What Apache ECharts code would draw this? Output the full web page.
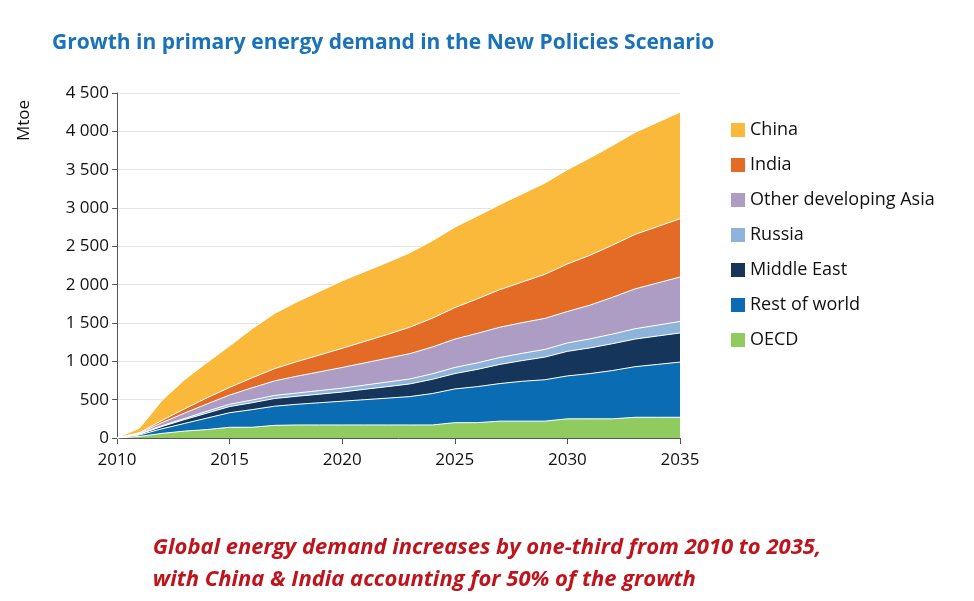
<!DOCTYPE html>
<html><head><meta charset="utf-8">
<script src="https://cdn.jsdelivr.net/npm/echarts@6/dist/echarts.min.js"></script>
<style>html,body{margin:0;padding:0;background:#fff}#c{width:974px;height:601px}</style>
</head><body><div id="c"></div>
<script>
const years = ['2010','2011','2012','2013','2014','2015','2016','2017','2018','2019','2020','2021','2022','2023','2024','2025','2026','2027','2028','2029','2030','2031','2032','2033','2034','2035'];
const oecd = [0,20,60,90,110,140,140,165,170,170,170,170,170,170,170,200,200,220,220,220,250,250,250,270,270,270];
const restOfWorld = [0,20,60,100,150,190,230,250,270,290,310,330,350,370,410,440,470,490,520,540,560,590,630,660,690,720];
const middleEast = [0,10,30,50,65,80,90,100,105,112,120,135,150,165,185,200,225,250,270,295,320,335,350,360,370,380];
const russia = [0,5,10,15,25,30,35,40,42,46,50,55,60,65,72,80,85,90,95,100,110,118,125,135,142,150];
const otherAsia = [0,10,40,70,95,120,160,190,220,245,270,290,310,330,350,370,385,395,400,405,410,440,480,520,550,580];
const india = [0,5,30,55,80,100,130,160,190,220,250,280,310,345,375,410,450,490,530,575,620,650,680,710,735,760];
const china = [0,60,260,380,460,540,640,720,780,830,880,910,940,970,1010,1050,1080,1110,1150,1190,1230,1270,1300,1330,1360,1390];
const series = [
 ['OECD', oecd, '#8fcb5f'],
 ['Rest of world', restOfWorld, '#0a6db4'],
 ['Middle East', middleEast, '#15355b'],
 ['Russia', russia, '#8fb4db'],
 ['Other developing Asia', otherAsia, '#ad9cc4'],
 ['India', india, '#e36b25'],
 ['China', china, '#fbb93c']
];
const fmt = v => String(v).replace(/\B(?=(\d{3})+(?!\d))/g, ' ');
const chart = echarts.init(document.getElementById('c'));
chart.setOption({
 animation:false,
 textStyle:{fontFamily:'Open Sans'},
 title:{text:'Growth in primary energy demand in the New Policies Scenario',left:47,top:28,textStyle:{color:'#1a72b8',fontSize:21,fontWeight:'bold',fontFamily:'Open Sans'}},
 graphic:[
  {type:'text',left:'center',top:532,style:{text:'Global energy demand increases by one-third from 2010 to 2035,\nwith China & India accounting for 50% of the growth',
   fill:'#c0141c',font:'italic bold 22px "Open Sans"',lineHeight:32,align:'center'}},
  {type:'text',left:16,top:100,rotation:Math.PI/2,style:{text:'Mtoe',fill:'#111',font:'17px "Open Sans"'}}
 ],
 grid:{left:117,top:93,width:563,height:345},
 legend:{orient:'vertical',left:726,top:116,itemGap:17,itemWidth:14,itemHeight:14,icon:'rect',
  data:['China','India','Other developing Asia','Russia','Middle East','Rest of world','OECD'],
  textStyle:{fontSize:18,color:'#111',fontFamily:'Open Sans'}},
 xAxis:{type:'category',boundaryGap:false,data:years,
  axisLine:{lineStyle:{color:'#555'}},axisTick:{interval:4,length:6,lineStyle:{color:'#555'}},
  axisLabel:{interval:4,margin:14,fontSize:17,color:'#111'}},
 yAxis:{type:'value',min:0,max:4500,interval:500,
  axisLine:{show:true,lineStyle:{color:'#555'}},axisTick:{show:true,length:5,lineStyle:{color:'#555'}},
  axisLabel:{fontSize:17,color:'#111',formatter:fmt},splitLine:{lineStyle:{color:'#e4e4e4'}}},
 series: series.map(s=>({name:s[0],type:'line',stack:'t',data:s[1],symbol:'none',
  lineStyle:{width:1,color:'#fff'},itemStyle:{color:s[2]},areaStyle:{color:s[2],opacity:1}}))
});
</script></body></html>
